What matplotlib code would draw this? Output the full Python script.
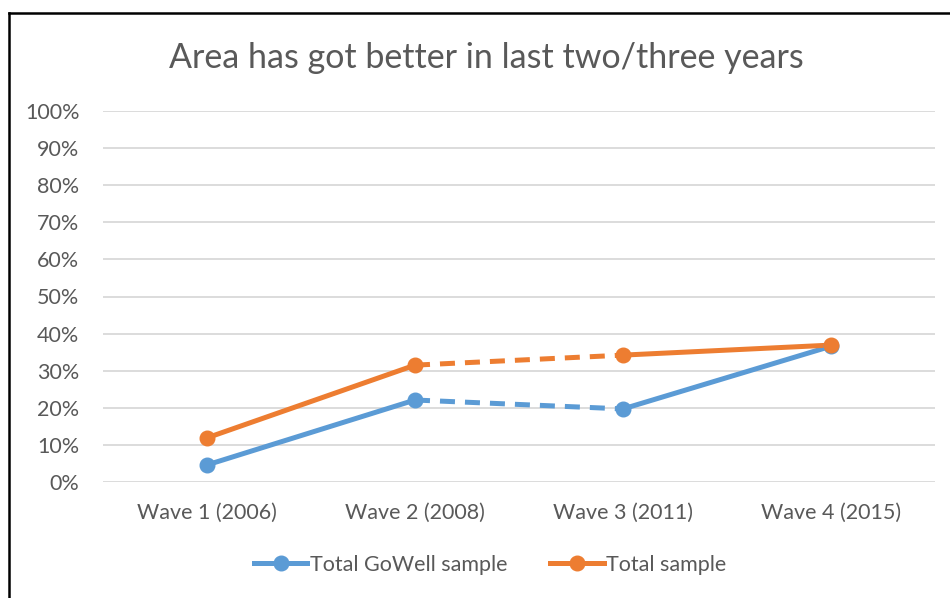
import matplotlib
matplotlib.use("Agg")
import matplotlib.pyplot as plt
from matplotlib.lines import Line2D

waves = ["Wave 1 (2006)", "Wave 2 (2008)", "Wave 3 (2011)", "Wave 4 (2015)"]
gowell = [0.046, 0.221, 0.197, 0.366]
total = [0.119, 0.315, 0.342, 0.369]
y_ticks = [i / 10 for i in range(11)]

BLUE = "#5B9BD5"
ORANGE = "#ED7D31"
TEXT = "#595959"
GRID = "#D9D9D9"

plt.rcParams["font.family"] = ["Lato", "DejaVu Sans"]

W, H = 950, 598
fig = plt.figure(figsize=(W / 100, H / 100), dpi=100)
ax = fig.add_axes([103 / W, 1 - 482 / H, (935 - 103) / W, (482 - 111) / H])

x = list(range(len(waves)))


def draw_series(values, color):
    # solid for 1-2 and 3-4, dashed between waves 2 and 3
    ax.plot(x[0:2], values[0:2], color=color, lw=3.6, solid_capstyle="round", zorder=3)
    ax.plot(x[1:3], values[1:3], color=color, lw=3.6, ls=(0, (3, 2)), zorder=3)
    ax.plot(x[2:4], values[2:4], color=color, lw=3.6, solid_capstyle="round", zorder=3)
    ax.plot(x, values, ls="none", marker="o", ms=10.5, color=color, zorder=4)


draw_series(gowell, BLUE)
draw_series(total, ORANGE)

ax.set_xlim(-0.5, 3.5)
ax.set_ylim(0, 1)
ax.set_yticks(y_ticks)
ax.set_yticklabels([f"{int(round(t * 100))}%" for t in y_ticks])
ax.set_xticks(x)
ax.set_xticklabels(waves)
ax.tick_params(axis="both", length=0, labelsize=15.5, colors=TEXT)
ax.tick_params(axis="y", pad=17)
ax.tick_params(axis="x", pad=15)
ax.yaxis.grid(True, color=GRID, lw=1.3)
ax.set_axisbelow(True)
for s in ax.spines.values():
    s.set_visible(False)

fig.text(486 / W, 1 - 58 / H, "Area has got better in last two/three years",
         ha="center", va="center", fontsize=24.5, color=TEXT)

handles = [
    Line2D([0], [0], color=BLUE, lw=3.6, marker="o", ms=10.5),
    Line2D([0], [0], color=ORANGE, lw=3.6, marker="o", ms=10.5),
]
fig.legend(handles, ["Total GoWell sample", "Total sample"], loc="center",
           bbox_to_anchor=(490 / W, 1 - 565 / H), ncol=2, frameon=False,
           fontsize=15.5, labelcolor=TEXT, handlelength=2.5, handletextpad=0.1,
           columnspacing=2.0)

# outer frame (left and top edges visible)
fig.add_artist(Line2D([9 / W, 9 / W], [0, 1 - 13 / H], color="black", lw=1.8,
                      transform=fig.transFigure))
fig.add_artist(Line2D([9 / W, 1], [1 - 13 / H, 1 - 13 / H], color="black", lw=1.8,
                      transform=fig.transFigure))

fig.savefig("out.png", dpi=100, facecolor="white")
